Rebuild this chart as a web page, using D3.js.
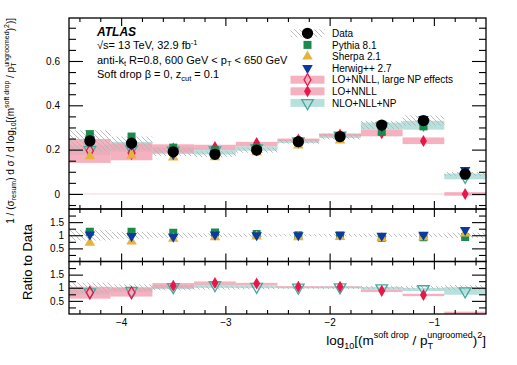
<!DOCTYPE html>
<html>
<head>
<meta charset="utf-8">
<title>Soft drop jet mass</title>
<script src="https://cdn.jsdelivr.net/npm/d3@7"></script>
<style>
  body { margin: 0; background: #fff; }
  svg { font-family: "Liberation Sans", Arial, sans-serif; }
  .frame { fill: none; stroke: #000; stroke-width: 1.3; }
</style>
</head>
<body>
<svg id="chart" width="517" height="365"></svg>
<script>
// bins in log10[(m / pT)^2]
var binLo = [-4.5, -4.1, -3.7, -3.3, -2.9, -2.5, -2.1, -1.7, -1.3, -0.9];
var binHi = [-4.1, -3.7, -3.3, -2.9, -2.5, -2.1, -1.7, -1.3, -0.9, -0.5];

var data    = [0.239, 0.229, 0.190, 0.179, 0.198, 0.236, 0.259, 0.311, 0.331, 0.090];
var dataErr = [0.048, 0.030, 0.019, 0.013, 0.012, 0.009, 0.013, 0.019, 0.023, 0.009];

var pythia = [0.270, 0.259, 0.209, 0.197, 0.208, 0.236, 0.256, 0.280, 0.305, 0.084];
var sherpa = [0.170, 0.174, 0.165, 0.166, 0.188, 0.219, 0.241, 0.280, 0.305, 0.096];
var herwig = [0.246, 0.222, 0.179, 0.183, 0.198, 0.236, 0.264, 0.305, 0.338, 0.108];

// LO+NNLL, large NP effects (first bins only)
var loNP   = [0.195, 0.185, null, null, null, null, null, null, null, null];
var loNPLo = [0.140, 0.152, null, null, null, null, null, null, null, null];
var loNPHi = [0.248, 0.228, null, null, null, null, null, null, null, null];

// LO+NNLL
var lo   = [null, null, 0.205, 0.212, 0.230, 0.245, 0.268, 0.274, 0.239, 0.000];
var loLo = [null, null, 0.186, 0.200, 0.215, 0.238, 0.260, 0.260, 0.225, -0.008];
var loHi = [null, null, 0.224, 0.222, 0.235, 0.250, 0.272, 0.290, 0.255, 0.008];

// NLO+NLL+NP
var nlo   = [0.198, 0.202, 0.196, 0.197, 0.206, 0.238, 0.264, 0.305, 0.314, 0.078];
var nloLo = [0.175, 0.190, 0.180, 0.178, 0.195, 0.230, 0.252, 0.290, 0.290, 0.066];
var nloHi = [0.222, 0.235, 0.210, 0.205, 0.215, 0.246, 0.272, 0.322, 0.330, 0.092];

var mainTicks  = [0, 0.2, 0.4, 0.6];
var mainMinor  = [-0.05, 0.05, 0.1, 0.15, 0.25, 0.3, 0.35, 0.45, 0.5, 0.55, 0.65, 0.7, 0.75];
var ratioTicks = [0.5, 1, 1.5];
var ratioMinor = [0.25, 0.75, 1.25, 1.75];
var xTicks = [-4, -3, -2, -1];
var xMinor = [-4.4, -4.2, -3.8, -3.6, -3.4, -3.2, -2.8, -2.6, -2.4, -2.2, -1.8, -1.6, -1.4, -1.2, -0.8, -0.6];

var col = {
  pythia: "#1b8a4c", sherpa: "#e8b33c", herwig: "#0b3b9f",
  red: "#e8174a", pink: "#f5a3b5", teal: "#45a9a0", tealBand: "#acdbd6"
};

var svg = d3.select("#chart");
var L = 69, R = 486;
var x = d3.scaleLinear().domain([-4.5, -0.5]).range([L, R]);
var yMain = d3.scaleLinear().domain([-0.068, 0.794]).range([209, 18]);
var yR1 = d3.scaleLinear().domain([0, 2]).range([261.5, 209]);
var yR2 = d3.scaleLinear().domain([0, 2]).range([314, 261.5]);

var defs = svg.append("defs");
defs.append("pattern").attr("id", "hatch").attr("patternUnits", "userSpaceOnUse")
  .attr("width", 5).attr("height", 5)
  .append("path").attr("d", "M-1,-1 L6,6 M-1,4 L1,6 M4,-1 L6,1")
  .attr("stroke", "#b4b4b4").attr("stroke-width", 0.9);
[["clipMain", yMain], ["clipR1", yR1], ["clipR2", yR2]].forEach(function (c) {
  var r = c[1].range();
  defs.append("clipPath").attr("id", c[0]).append("rect")
    .attr("x", L).attr("y", r[1]).attr("width", R - L).attr("height", r[0] - r[1]);
});

var idx = d3.range(binLo.length);
function mid(i) { return (binLo[i] + binHi[i]) / 2; }
function sym(type, size) { return d3.symbol().type(type).size(size)(); }

function bands(g, y, lo, hi, fill, opacity, div) {
  g.selectAll(null).data(idx.filter(function (i) { return lo[i] != null; })).enter()
    .append("rect")
    .attr("x", function (i) { return x(binLo[i]); })
    .attr("width", function (i) { return x(binHi[i]) - x(binLo[i]); })
    .attr("y", function (i) { return y(hi[i] / (div ? div[i] : 1)); })
    .attr("height", function (i) { return y(lo[i] / (div ? div[i] : 1)) - y(hi[i] / (div ? div[i] : 1)); })
    .attr("fill", fill).attr("opacity", opacity);
}

function markers(g, y, vals, path, fill, stroke, div, rot) {
  g.selectAll(null).data(idx.filter(function (i) {
      if (vals[i] == null) return false;
      var v = vals[i] / (div ? div[i] : 1);
      return v > 0.05 || !div;
    })).enter()
    .append("path").attr("d", path)
    .attr("transform", function (i) {
      return "translate(" + x(mid(i)) + "," + y(vals[i] / (div ? div[i] : 1)) + ")" + (rot ? " rotate(180)" : "");
    })
    .attr("fill", fill).attr("stroke", stroke || "none").attr("stroke-width", 1.3);
}

function hatchBand(g, y, rel) {
  g.selectAll(null).data(idx).enter().append("rect")
    .attr("x", function (i) { return x(binLo[i]); })
    .attr("width", function (i) { return x(binHi[i]) - x(binLo[i]); })
    .attr("y", function (i) { return rel ? y(1 + dataErr[i] / data[i]) : y(data[i] + dataErr[i]); })
    .attr("height", function (i) {
      return rel ? y(1 - dataErr[i] / data[i]) - y(1 + dataErr[i] / data[i])
                 : y(data[i] - dataErr[i]) - y(data[i] + dataErr[i]);
    })
    .attr("fill", "url(#hatch)");
}

var circ = sym(d3.symbolCircle, 100);
var sq = sym(d3.symbolSquare, 64);
var tri = sym(d3.symbolTriangle, 48);
var triBig = sym(d3.symbolTriangle, 58);
var dia = sym(d3.symbolDiamond, 42);

// ---- main panel
var gm = svg.append("g").attr("clip-path", "url(#clipMain)");
gm.append("line").attr("x1", L).attr("x2", R).attr("y1", yMain(0)).attr("y2", yMain(0))
  .attr("stroke", "#fbd0d8").attr("stroke-width", 1);
bands(gm, yMain, nloLo, nloHi, col.tealBand, 0.85);
bands(gm, yMain, loNPLo, loNPHi, col.pink, 0.85);
bands(gm, yMain, loLo, loHi, col.pink, 0.85);
hatchBand(gm, yMain, false);
markers(gm, yMain, nlo, triBig, "none", col.teal, null, true);
markers(gm, yMain, loNP, dia, "none", col.red);
markers(gm, yMain, lo, dia, col.red);
markers(gm, yMain, sherpa, tri, col.sherpa);
markers(gm, yMain, pythia, sq, col.pythia);
markers(gm, yMain, herwig, tri, col.herwig, null, null, true);
markers(gm, yMain, data, circ, "#000");

// ---- ratio panel 1 (MC / data)
var g1 = svg.append("g").attr("clip-path", "url(#clipR1)");
hatchBand(g1, yR1, true);
markers(g1, yR1, pythia, sq, col.pythia, null, data);
markers(g1, yR1, sherpa, tri, col.sherpa, null, data);
markers(g1, yR1, herwig, tri, col.herwig, null, data, true);

// ---- ratio panel 2 (theory / data)
var g2 = svg.append("g").attr("clip-path", "url(#clipR2)");
bands(g2, yR2, nloLo, nloHi, col.tealBand, 0.85, data);
bands(g2, yR2, loNPLo, loNPHi, col.pink, 0.85, data);
bands(g2, yR2, loLo, loHi, col.pink, 0.85, data);
hatchBand(g2, yR2, true);
markers(g2, yR2, nlo, triBig, "none", col.teal, data, true);
markers(g2, yR2, loNP, dia, "none", col.red, data);
markers(g2, yR2, lo, dia, col.red, null, data);

// ---- axes and frames
function fmtNum(d) { return String(d).replace("-", "\u2212"); }

function panelAxes(y, yMaj, yMin, yLabelPad, xLabels) {
  var r = y.range(), top = r[1], bot = r[0];
  var ax = svg.append("g").attr("font-family", "Liberation Sans, Arial, sans-serif");
  function put(axis, tx, ty, labels) {
    var g = ax.append("g").attr("transform", "translate(" + tx + "," + ty + ")").call(axis);
    g.select(".domain").remove();
    g.selectAll("line").attr("stroke", "#000").attr("stroke-width", 1.1);
    g.selectAll("text").attr("font-size", 10).attr("fill", "#000");
    if (!labels) g.selectAll("text").remove();
  }
  put(d3.axisLeft(y).tickValues(yMaj).tickSize(-14).tickPadding(yLabelPad).tickFormat(fmtNum), L, 0, true);
  put(d3.axisLeft(y).tickValues(yMin).tickSize(-7), L, 0, false);
  put(d3.axisRight(y).tickValues(yMaj).tickSize(-14), R, 0, false);
  put(d3.axisRight(y).tickValues(yMin).tickSize(-7), R, 0, false);
  put(d3.axisTop(x).tickValues(xTicks).tickSize(-8), 0, top, false);
  put(d3.axisTop(x).tickValues(xMinor).tickSize(-4), 0, top, false);
  put(d3.axisBottom(x).tickValues(xTicks).tickSize(-8).tickPadding(5).tickFormat(fmtNum), 0, bot, xLabels);
  put(d3.axisBottom(x).tickValues(xMinor).tickSize(-4), 0, bot, false);
  svg.append("rect").attr("class", "frame").attr("x", L).attr("y", top)
    .attr("width", R - L).attr("height", bot - top);
}
panelAxes(yMain, mainTicks, mainMinor, 9, false);
panelAxes(yR1, ratioTicks, ratioMinor, 5, false);
panelAxes(yR2, ratioTicks, ratioMinor, 5, true);

// ---- axis titles
var xt = svg.append("text").attr("x", R).attr("y", 345).attr("text-anchor", "end")
  .attr("font-size", 13.5);
xt.append("tspan").text("log");
xt.append("tspan").attr("font-size", 9).attr("dy", 4).text("10");
xt.append("tspan").attr("dy", -4).text("[(m");
xt.append("tspan").attr("font-size", 9).attr("dy", -7).text("soft drop");
xt.append("tspan").attr("dy", 7).text(" / p");
xt.append("tspan").attr("font-size", 9).attr("dy", 4).text("T");
xt.append("tspan").attr("font-size", 9).attr("dx", -5.5).attr("dy", -11).text("ungroomed");
xt.append("tspan").attr("dy", 7).text(")");
xt.append("tspan").attr("font-size", 9).attr("dy", -7).text("2");
xt.append("tspan").attr("dy", 7).text("]");

var yt = svg.append("text").attr("transform", "translate(13.5,18) rotate(-90)")
  .attr("text-anchor", "end").attr("font-size", 10);
yt.append("tspan").text("1 / (\u03c3");
yt.append("tspan").attr("font-size", 7).attr("dy", 2.5).text("resum");
yt.append("tspan").attr("dy", -2.5).text(") d \u03c3 / d log");
yt.append("tspan").attr("font-size", 7).attr("dy", 2.5).text("10");
yt.append("tspan").attr("dy", -2.5).text("[(m");
yt.append("tspan").attr("font-size", 7).attr("dy", -5).text("soft drop");
yt.append("tspan").attr("dy", 5).text(" / p");
yt.append("tspan").attr("font-size", 7).attr("dy", 2.5).text("T");
yt.append("tspan").attr("font-size", 7).attr("dx", -4).attr("dy", -7.5).text("ungroomed");
yt.append("tspan").attr("dy", 5).text(")");
yt.append("tspan").attr("font-size", 7).attr("dy", -5).text("2");
yt.append("tspan").attr("dy", 5).text(")]");

svg.append("text").attr("transform", "translate(32,262) rotate(-90)")
  .attr("text-anchor", "middle").attr("font-size", 13).text("Ratio to Data");

// ---- ATLAS label block
var lab = svg.append("g").attr("font-size", 11);
lab.append("text").attr("x", 97).attr("y", 36).attr("font-weight", "bold")
  .attr("font-style", "italic").attr("font-size", 12).text("ATLAS");
var t1 = lab.append("text").attr("x", 97).attr("y", 48.5);
t1.append("tspan").text("\u221as= 13 TeV, 32.9 fb");
t1.append("tspan").attr("font-size", 7.5).attr("dy", -4).text("-1");
var t2 = lab.append("text").attr("x", 97).attr("y", 63.5);
t2.append("tspan").text("anti-k");
t2.append("tspan").attr("font-size", 7.5).attr("dy", 2.5).text("t");
t2.append("tspan").attr("dy", -2.5).text(" R=0.8, 600 GeV < p");
t2.append("tspan").attr("font-size", 7.5).attr("dy", 2.5).text("T");
t2.append("tspan").attr("dy", -2.5).text(" < 650 GeV");
var t3 = lab.append("text").attr("x", 97).attr("y", 78);
t3.append("tspan").text("Soft drop \u03b2 = 0, z");
t3.append("tspan").attr("font-size", 7.5).attr("dy", 2.5).text("cut");
t3.append("tspan").attr("dy", -2.5).text(" = 0.1");

// ---- legend
var legNames = ["Data", "Pythia 8.1", "Sherpa 2.1", "Herwig++ 2.7",
  "LO+NNLL, large NP effects", "LO+NNLL", "NLO+NLL+NP"];
var lg = svg.append("g");
var lx = 307.5, ly0 = 33.3, dy = 11.6;
legNames.forEach(function (name, k) {
  var yy = ly0 + k * dy;
  var box = function (fill, op) {
    lg.append("rect").attr("x", lx - 17).attr("y", yy - 4).attr("width", 34).attr("height", 8)
      .attr("fill", fill).attr("opacity", op);
  };
  var mk = function (path, fill, stroke, rot) {
    lg.append("path").attr("d", path)
      .attr("transform", "translate(" + lx + "," + yy + ")" + (rot ? " rotate(180)" : ""))
      .attr("fill", fill).attr("stroke", stroke || "none").attr("stroke-width", 1.3);
  };
  if (k === 0) { box("url(#hatch)", 1); mk(circ, "#000"); }
  if (k === 1) mk(sq, col.pythia);
  if (k === 2) mk(tri, col.sherpa);
  if (k === 3) mk(tri, col.herwig, null, true);
  if (k === 4) { box(col.pink, 0.85); mk(dia, "none", col.red); }
  if (k === 5) { box(col.pink, 0.85); mk(dia, col.red); }
  if (k === 6) { box(col.tealBand, 0.85); mk(triBig, "none", col.teal, true); }
  lg.append("text").attr("x", 332).attr("y", yy + 3.6).attr("font-size", 10).text(name);
});
</script>
</body>
</html>
